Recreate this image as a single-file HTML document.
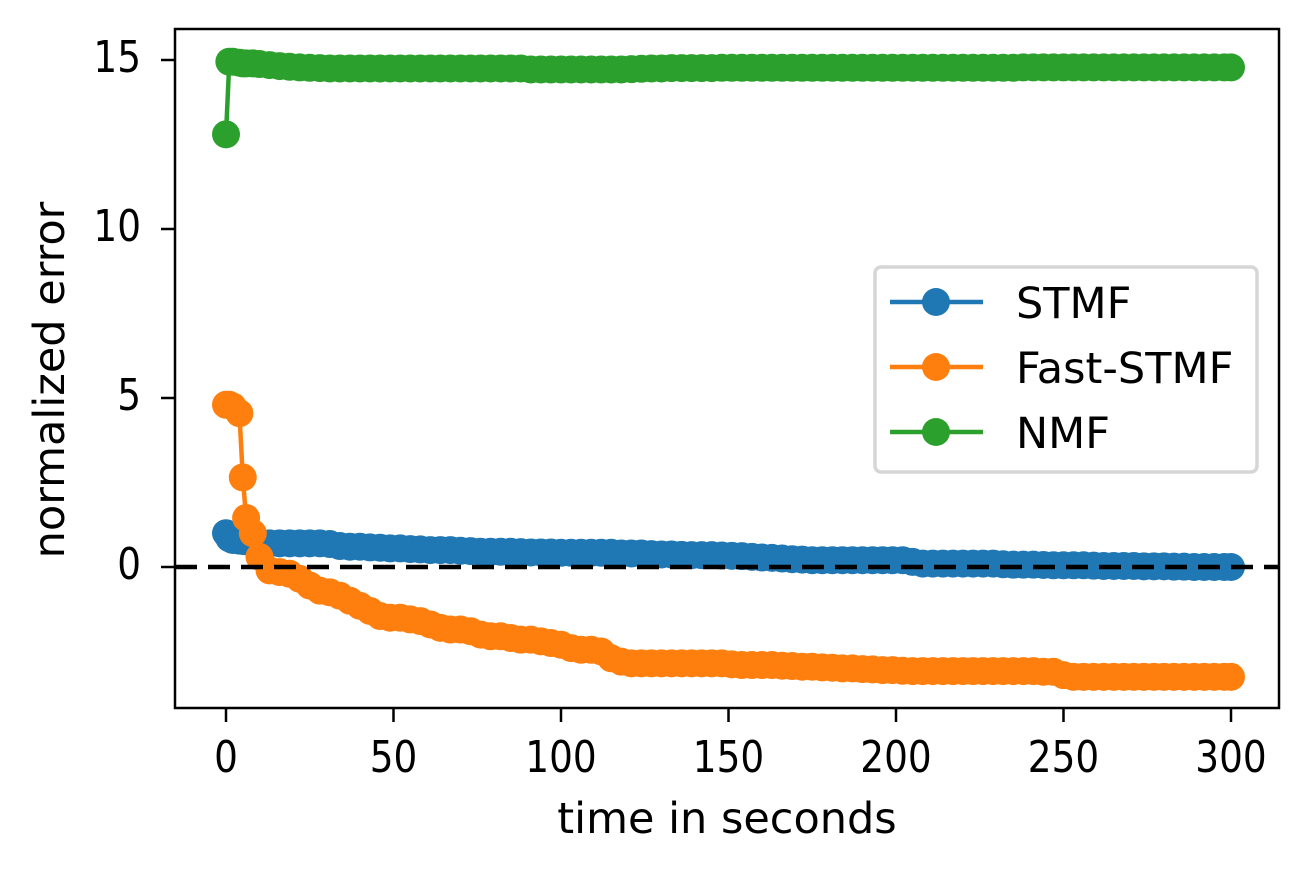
<!DOCTYPE html>
<html><head><meta charset="utf-8"><style>
body{margin:0;background:#fff}
svg text{font-family:"DejaVu Sans","Liberation Sans",sans-serif;fill:#000}
</style></head><body>
<svg id="chart" width="1308" height="871" xmlns="http://www.w3.org/2000/svg">
<rect x="0" y="0" width="1308" height="871" fill="#fff"/>
<g id="series"></g>
<g id="axes"></g>
</svg>
<script>
const times=[0,1,2,4,5,6,8,10,
13,16,19,22,25,28,31,34,37,40,43,46,49,52,55,58,61,64,67,70,73,76,79,82,85,88,91,94,97,100,
103,106,109,112,115,118,121,124,127,130,133,136,139,142,145,148,151,154,157,160,163,166,169,172,175,178,181,184,187,190,
193,196,199,202,205,208,211,214,217,220,223,226,229,232,235,238,241,244,247,250,253,256,259,262,265,268,271,274,277,280,
283,286,289,292,295,298,300];
const stmf=[1.0,0.85,0.8,0.78,0.77,0.76,0.75,0.72,
0.7,0.7,0.7,0.7,0.7,0.7,0.68,0.62,0.6,0.6,
0.58,0.57,0.55,0.55,0.53,0.52,0.5,0.5,0.5,0.48,
0.47,0.45,0.45,0.45,0.45,0.44,0.43,0.43,0.43,0.42,
0.42,0.42,0.42,0.42,0.42,0.4,0.4,0.4,0.38,0.37,
0.37,0.36,0.35,0.35,0.35,0.34,0.33,0.32,0.3,0.28,
0.27,0.25,0.23,0.22,0.2,0.2,0.2,0.2,0.2,0.2,
0.2,0.2,0.2,0.2,0.15,0.1,0.1,0.1,0.1,0.1,
0.1,0.1,0.1,0.08,0.07,0.07,0.07,0.06,0.05,0.05,
0.05,0.05,0.04,0.03,0.03,0.03,0.03,0.02,0.02,0.02,
0.01,0.01,0.0,0.0,0.0,0.0,0.0];
const fastStmf=[4.8,4.8,4.75,4.55,2.65,1.45,1.0,0.3,
-0.1,-0.15,-0.2,-0.35,-0.55,-0.7,-0.75,-0.85,-1.0,-1.15,
-1.3,-1.45,-1.5,-1.5,-1.55,-1.6,-1.7,-1.8,-1.85,-1.85,
-1.9,-2.0,-2.05,-2.05,-2.1,-2.15,-2.15,-2.2,-2.25,-2.3,
-2.4,-2.45,-2.45,-2.5,-2.7,-2.8,-2.85,-2.85,-2.85,-2.85,
-2.85,-2.85,-2.85,-2.85,-2.85,-2.85,-2.88,-2.9,-2.9,-2.9,
-2.9,-2.92,-2.93,-2.95,-2.95,-2.97,-2.98,-3.0,-3.0,-3.02,
-3.03,-3.05,-3.05,-3.07,-3.08,-3.08,-3.08,-3.08,-3.08,-3.08,
-3.08,-3.08,-3.08,-3.08,-3.08,-3.08,-3.08,-3.1,-3.1,-3.2,
-3.25,-3.25,-3.25,-3.25,-3.25,-3.25,-3.25,-3.25,-3.25,-3.25,
-3.25,-3.25,-3.25,-3.25,-3.25,-3.25,-3.25];
const nmf=[12.8,14.95,14.95,14.92,14.9,14.9,14.9,14.88,
14.85,14.82,14.8,14.78,14.77,14.76,14.75,14.75,14.75,14.75,
14.75,14.75,14.75,14.75,14.75,14.75,14.75,14.75,14.75,14.75,
14.75,14.75,14.75,14.75,14.75,14.75,14.72,14.72,14.72,14.72,
14.72,14.72,14.72,14.72,14.72,14.72,14.73,14.74,14.75,14.75,
14.76,14.76,14.76,14.76,14.76,14.77,14.77,14.77,14.77,14.77,
14.77,14.77,14.77,14.77,14.77,14.77,14.77,14.77,14.77,14.77,
14.77,14.77,14.77,14.77,14.77,14.77,14.77,14.77,14.77,14.77,
14.77,14.77,14.77,14.77,14.77,14.78,14.78,14.78,14.78,14.78,
14.78,14.78,14.78,14.78,14.78,14.78,14.78,14.78,14.78,14.78,
14.78,14.78,14.78,14.78,14.78,14.78,14.78];
const xTicks=[0,50,100,150,200,250,300];
const yTicks=[0,5,10,15];
const seriesNames=["STMF","Fast-STMF","NMF"];
const seriesColors=["#1f77b4","#ff7f0e","#2ca02c"];

const NS="http://www.w3.org/2000/svg";
const L=175,R=1279,T=29,B=708;
const xS=v=>226+(v-0)*(1231-226)/300;
const yS=v=>567-v*(567-60)/15;
function el(tag,attrs,parent){const e=document.createElementNS(NS,tag);for(const k in attrs)e.setAttribute(k,attrs[k]);parent.appendChild(e);return e;}
const sg=document.getElementById('series'),ag=document.getElementById('axes');
const allSeries=[stmf,fastStmf,nmf];
allSeries.forEach((vals,i)=>{
  const g=el('g',{},sg);
  
  
  const pts=vals.map((v,j)=>xS(times[j]).toFixed(1)+','+yS(v).toFixed(1)).join(' ');
  const pl=el('polyline',{points:pts,fill:'none',stroke:seriesColors[i],'stroke-width':4.5},g);
  
  
  vals.forEach((v,j)=>{
    const c=el('circle',{cx:xS(times[j]),cy:yS(v),r:14,fill:seriesColors[i]},g);
    
    
  });
});
const zl=el('line',{x1:L,x2:R,y1:yS(0),y2:yS(0),stroke:'#000','stroke-width':4.5,'stroke-dasharray':'22,11'},ag);


const fr=el('rect',{x:L,y:T,width:R-L,height:B-T,fill:'none',stroke:'#000','stroke-width':2.5},ag);


xTicks.forEach(v=>{
  const x=xS(v);
  const t=el('line',{x1:x,x2:x,y1:B,y2:B+14,stroke:'#000','stroke-width':2.5},ag);
  
  
  const tx=el('text',{x:0,y:0,'text-anchor':'middle','font-size':44,transform:'translate('+x+',772) scale(0.85,1)'},ag);
  tx.textContent=v;
  
  
});
yTicks.forEach(v=>{
  const y=yS(v);
  const t=el('line',{x1:L-14,x2:L,y1:y,y2:y,stroke:'#000','stroke-width':2.5},ag);
  
  
  const tx=el('text',{x:0,y:0,'text-anchor':'end','font-size':44,transform:'translate(141,'+(y+12)+') scale(0.85,1)'},ag);
  tx.textContent=v;
  
  
});
const xl=el('text',{x:727,y:833,'text-anchor':'middle','font-size':43},ag);
xl.textContent='time in seconds';


const yl=el('text',{x:0,y:0,'text-anchor':'middle','font-size':43,transform:'translate(64,380) rotate(-90)'},ag);
yl.textContent='normalized error';


const lg=el('g',{},ag);


el('rect',{x:875,y:267,width:382,height:205,rx:6,fill:'#fff','fill-opacity':0.8,stroke:'#d6d6d6','stroke-width':3.5},lg);
seriesNames.forEach((n,i)=>{
  const y=302+i*65;
  const g=el('g',{},lg);
  
  
  el('line',{x1:890,x2:983,y1:y,y2:y,stroke:seriesColors[i],'stroke-width':4.5},g);
  el('circle',{cx:936,cy:y,r:14,fill:seriesColors[i]},g);
  const t=el('text',{x:1016,y:y+16,'font-size':43},g);
  t.textContent=n;
});
</script>
</body></html>
